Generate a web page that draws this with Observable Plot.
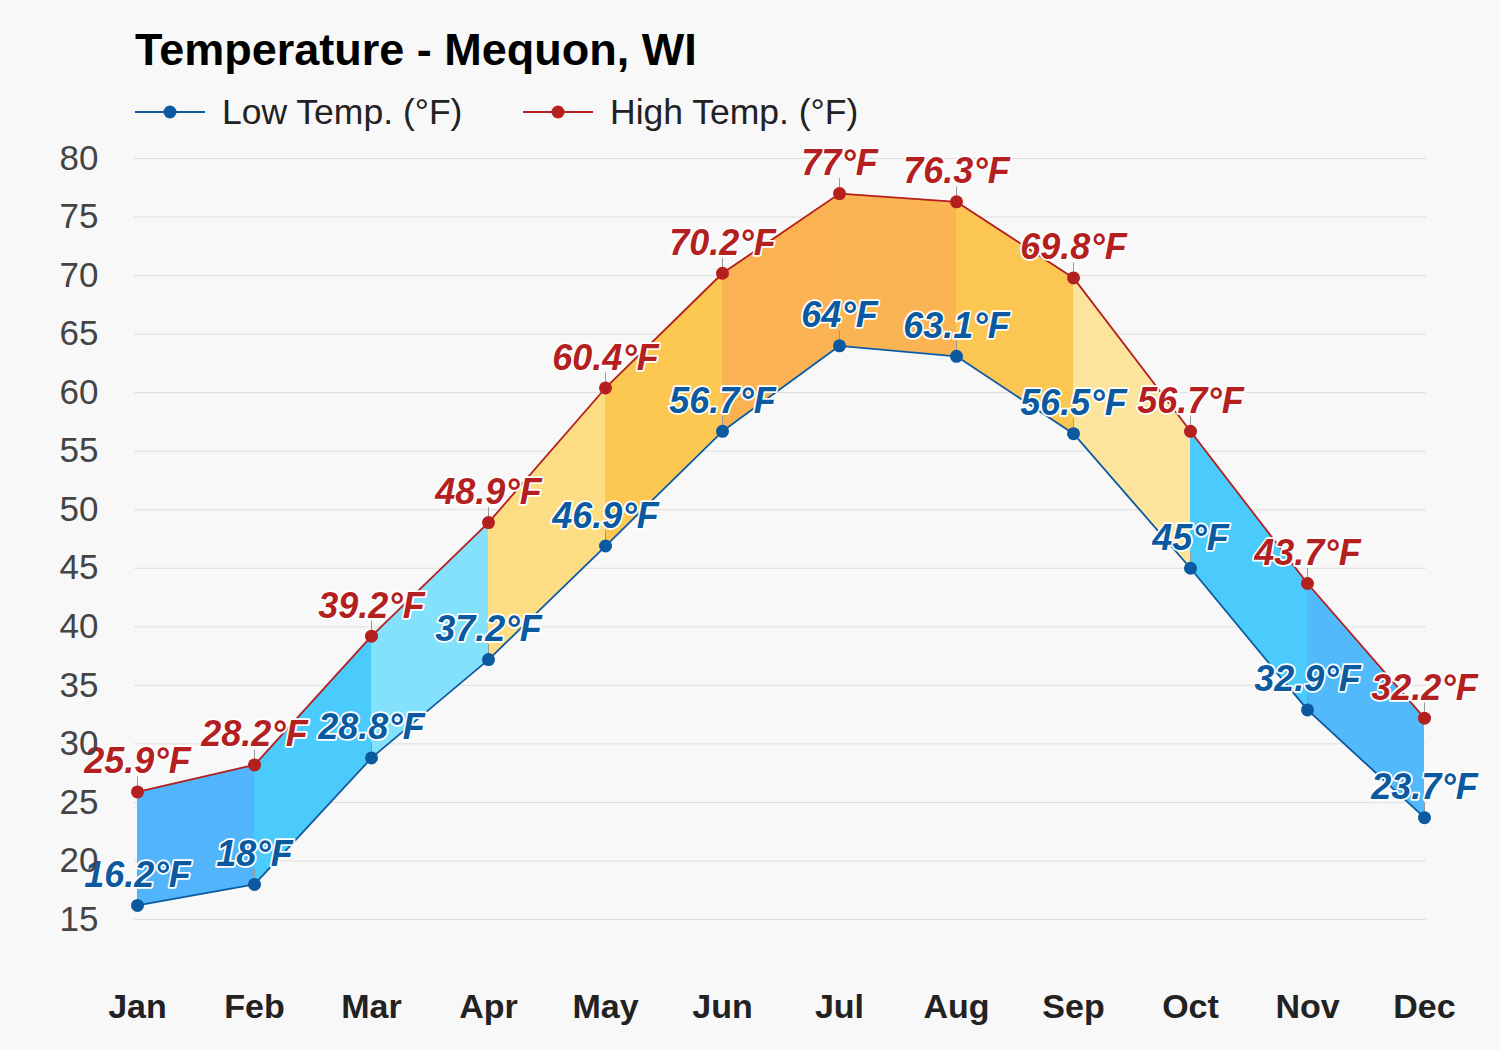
<!DOCTYPE html>
<html><head><meta charset="utf-8">
<script src="https://cdn.jsdelivr.net/npm/d3@7"></script>
<script src="https://cdn.jsdelivr.net/npm/@observablehq/plot@0.6"></script>
<style>
body{margin:0;background:#f8f8f8;font-family:"Liberation Sans",Arial,sans-serif;}
#wrap{position:relative;width:1500px;height:1050px;overflow:hidden;}
#title{position:absolute;left:135px;top:27px;font-size:45px;font-weight:bold;color:#000;line-height:1;white-space:nowrap;}
.leg{position:absolute;top:92px;height:40px;display:flex;align-items:center;font-size:35.5px;color:#222;white-space:nowrap;}
.leg svg{margin-right:17px;}
#chart{position:absolute;left:0;top:130px;}
</style></head><body>
<div id="wrap">
  <div id="title">Temperature - Mequon, WI</div>
  <div class="leg" style="left:135px"><svg width="70" height="20"><line x1="0" x2="70" y1="10" y2="10" stroke="#0b5aa0" stroke-width="2"/><circle cx="35" cy="10" r="6.5" fill="#0b5aa0"/></svg><span>Low Temp. (°F)</span></div>
  <div class="leg" style="left:523px"><svg width="70" height="20"><line x1="0" x2="70" y1="10" y2="10" stroke="#b41f1f" stroke-width="2"/><circle cx="35" cy="10" r="6.5" fill="#b41f1f"/></svg><span>High Temp. (°F)</span></div>
  <div id="chart"></div>
</div>
<script>
const months = ["Jan","Feb","Mar","Apr","May","Jun","Jul","Aug","Sep","Oct","Nov","Dec"];
const lowTemps = [16.2,18,28.8,37.2,46.9,56.7,64,63.1,56.5,45,32.9,23.7];
const highTemps = [25.9,28.2,39.2,48.9,60.4,70.2,77,76.3,69.8,56.7,43.7,32.2];
const yTicks = [15,20,25,30,35,40,45,50,55,60,65,70,75,80];

// style: band colours between consecutive months
const bandColors = ["#4cb3fb","#45c8fc","#80e0fc","#fddc7f","#fcc64b","#fbb04c","#fbb24e","#fcc44c","#fde39a","#45c8fc","#4cb8fb"];
const lowColor = "#0b5aa0", highColor = "#b41f1f";

const rows = months.map((m,i)=>({month:m, low:lowTemps[i], high:highTemps[i]}));
const bands = [];
for (let i=0;i<months.length-1;i++){
  bands.push({seg:i, ...rows[i]});
  bands.push({seg:i, ...rows[i+1]});
}

const labelStyle = {dy:-30, stroke:"white", strokeWidth:3.5, fontSize:36, fontWeight:"bold", fontStyle:"italic"};

const chart = Plot.plot({
  width:1500, height:920,
  marginLeft:134, marginRight:74, marginTop:28, marginBottom:131,
  style:{background:"transparent", overflow:"visible", fontFamily:"'Liberation Sans', Arial, sans-serif"},
  x:{type:"point", domain:months, padding:0, label:null},
  y:{domain:[15,80], label:null},
  marks:[
    Plot.gridY(yTicks,{stroke:"#dedede", strokeOpacity:1, strokeWidth:1}),
    Plot.areaY(bands,{x:"month", y1:"low", y2:"high", z:"seg", fill:d=>bandColors[d.seg], fillOpacity:0.97}),
    Plot.line(rows,{x:"month", y:"low", stroke:lowColor, strokeWidth:1.8}),
    Plot.line(rows,{x:"month", y:"high", stroke:highColor, strokeWidth:1.8}),
    Plot.ruleX(rows,{x:"month", y1:"low", y2:"low", insetTop:-15, stroke:"#999", strokeWidth:1}),
    Plot.ruleX(rows,{x:"month", y1:"high", y2:"high", insetTop:-15, stroke:"#999", strokeWidth:1}),
    Plot.dot(rows,{x:"month", y:"low", r:6.5, fill:lowColor}),
    Plot.dot(rows,{x:"month", y:"high", r:6.5, fill:highColor}),
    Plot.text(rows,{x:"month", y:"low", text:d=>`${d.low}°F`, fill:lowColor, ...labelStyle}),
    Plot.text(rows,{x:"month", y:"high", text:d=>`${d.high}°F`, fill:highColor, ...labelStyle}),
    Plot.axisY(yTicks,{tickSize:0, tickPadding:36, fontSize:35, color:"#444", label:null}),
    Plot.axisX({tickSize:0, tickPadding:74, fontSize:34, fontWeight:"bold", color:"#222", label:null})
  ]
});
document.getElementById("chart").appendChild(chart);
</script>
</body></html>
